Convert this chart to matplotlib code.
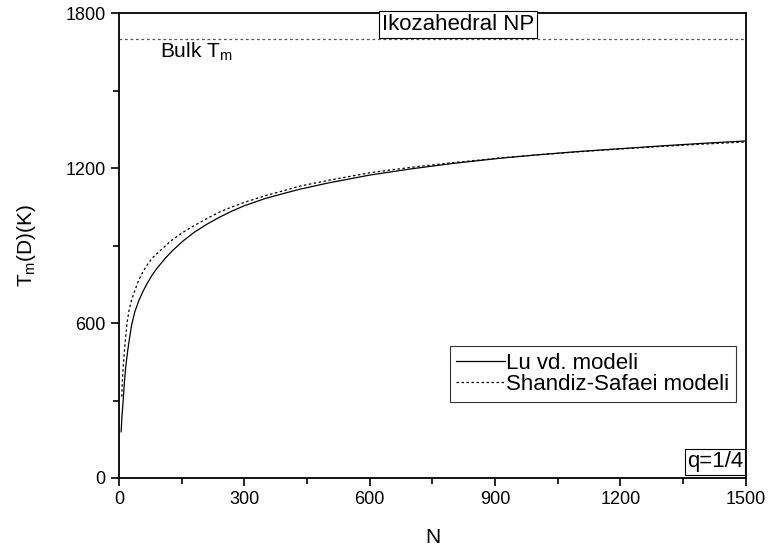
import matplotlib
matplotlib.use('Agg')
import matplotlib.pyplot as plt
from matplotlib.ticker import MultipleLocator

plt.rcParams['font.family'] = ['Liberation Sans', 'DejaVu Sans']
plt.rcParams['mathtext.fontset'] = 'custom'
plt.rcParams['mathtext.rm'] = 'Liberation Sans'

# values
lu_N = [5, 7, 10, 13, 16, 21, 25, 30, 38, 48, 58, 68, 80, 92, 110, 128, 153, 180, 210, 240,
        270, 300, 350, 400, 433, 500, 601, 700, 800, 912, 1000, 1100, 1200, 1300, 1400, 1500]
lu_T = [179, 240, 302, 375, 431, 496, 540, 592, 645, 690, 725, 756, 788, 815, 850, 881, 918, 952, 983, 1010,
        1034, 1055, 1083, 1105, 1119, 1143, 1174, 1198, 1219, 1239, 1252, 1265, 1276, 1287, 1297, 1306]

ss_N = [6.5, 8, 10, 13, 16, 19, 24, 30, 37, 44, 53, 65, 80, 100, 125, 153, 180, 210, 240,
        270, 300, 350, 400, 433, 500, 601, 700, 800, 912, 1000, 1100, 1200, 1300, 1400, 1500]
ss_T = [315, 380, 431, 496, 550, 599, 650, 690, 722, 754, 787, 820, 853, 883, 920, 952, 978, 1005, 1030,
        1050, 1068, 1094, 1116, 1131, 1153, 1183, 1204, 1222, 1240, 1252, 1264, 1275, 1285, 1294, 1302]

bulk_Tm = 1700

fig = plt.figure(figsize=(7.68, 5.5), dpi=100)
ax = fig.add_axes([0.155, 0.131, 0.816, 0.8445])

ax.axhline(bulk_Tm, color='#555555', lw=0.9, ls=(0, (2.2, 2.2)))
ax.plot(lu_N, lu_T, color='black', lw=0.9, label='Lu vd. modeli')
ax.plot(ss_N, ss_T, color='black', lw=0.9, ls=(0, (2, 2)), label='Shandiz-Safaei modeli')

ax.set_xlim(0, 1500)
ax.set_ylim(0, 1800)
ax.xaxis.set_major_locator(MultipleLocator(300))
ax.xaxis.set_minor_locator(MultipleLocator(150))
ax.yaxis.set_major_locator(MultipleLocator(600))
ax.yaxis.set_minor_locator(MultipleLocator(300))
ax.tick_params(which='both', direction='out', top=False, right=False, width=1.2)
ax.tick_params(which='major', length=6, labelsize=13)
ax.tick_params(which='minor', length=4)
for s in ax.spines.values():
    s.set_linewidth(1.3)

ax.set_xlabel('N', fontsize=15, labelpad=14)
ax.set_ylabel(r'T$_{\mathregular{m}}$(D)(K)', fontsize=15, labelpad=20)

ax.text(98, 1628, r'Bulk T$_{\mathregular{m}}$', fontsize=15)
ax.text(0.541, 0.976, 'Ikozahedral NP', transform=ax.transAxes, fontsize=16,
        ha='center', va='center',
        bbox=dict(boxstyle='square,pad=0.12', fc='white', ec='black', lw=0.8))
ax.text(0.996, 0.012, 'q=1/4', transform=ax.transAxes, fontsize=16,
        ha='right', va='bottom',
        bbox=dict(boxstyle='square,pad=0.1', fc='white', ec='black', lw=0.8))

leg = ax.legend(loc='lower right', bbox_to_anchor=(0.9845, 0.164), fontsize=16,
                frameon=True, fancybox=False, handlelength=2.2, handletextpad=0.05,
                borderpad=0.3, labelspacing=0.0, borderaxespad=0)
leg.get_frame().set_edgecolor('black')
leg.get_frame().set_linewidth(0.8)

fig.savefig('out.png', dpi=100)
